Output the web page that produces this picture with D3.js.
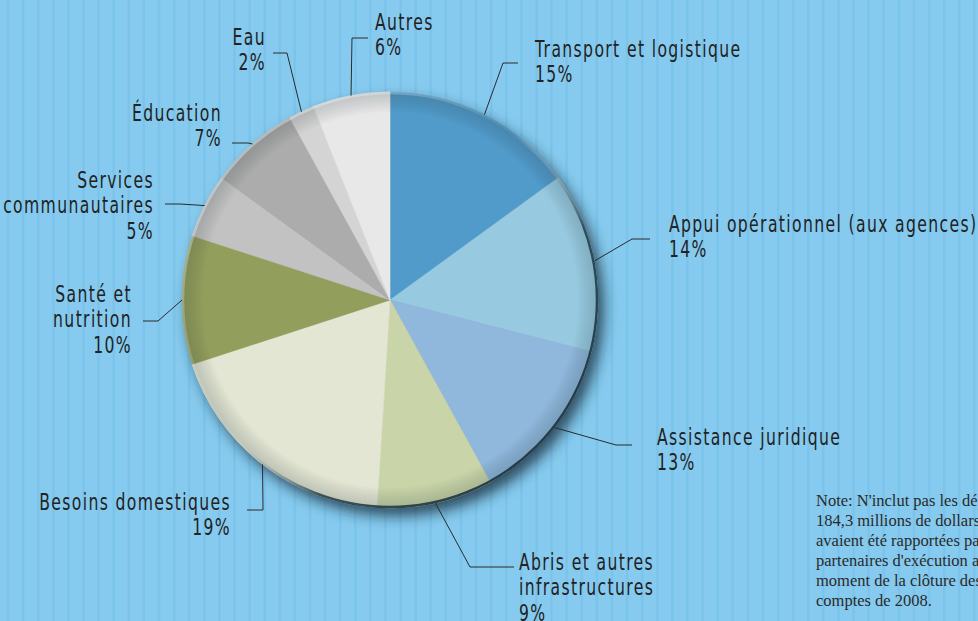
<!DOCTYPE html>
<html>
<head>
<meta charset="utf-8">
<script src="https://cdn.jsdelivr.net/npm/d3@7"></script>
<style>
  html, body { margin: 0; padding: 0; overflow: hidden; background: #86cbef; }
  svg { display: block; }
  .lbl { font-family: "DejaVu Sans", sans-serif; font-size: 23px; letter-spacing: 2px; fill: #222; }
  .note { font-family: "Liberation Serif", "DejaVu Serif", serif; font-size: 16.5px; fill: #2a2a2a; }
</style>
</head>
<body>
<svg id="chart" width="978" height="621"></svg>
<script>
// Data (share of expenditure, %), clockwise from 12 o'clock
var categories = ["Transport et logistique", "Appui opérationnel (aux agences)", "Assistance juridique",
  "Abris et autres infrastructures", "Besoins domestiques", "Santé et nutrition",
  "Services communautaires", "Éducation", "Eau", "Autres"];
var values = [15, 14, 13, 9, 19, 10, 5, 7, 2, 6];
var colors = ["#519bca", "#97cae0", "#8fb8dc", "#c9d5a8", "#e3e6d3", "#929e5c",
  "#c2c2c2", "#acacac", "#d4d4d4", "#e8e8e8"];
// how the label text is broken into lines
var labelLines = [
  ["Transport et logistique"], ["Appui opérationnel (aux agences)"], ["Assistance juridique"],
  ["Abris et autres", "infrastructures"], ["Besoins domestiques"], ["Santé et", "nutrition"],
  ["Services", "communautaires"], ["Éducation"], ["Eau"], ["Autres"]];
var noteLines = ["Note: N'inclut pas les dépenses de", "184,3 millions de dollars qui", "avaient été rapportées par les",
  "partenaires d'exécution au", "moment de la clôture des", "comptes de 2008."];

// label layout: elbow of leader, end of leader, text x / anchor / first baseline
var labelPos = [
  {ex: 503, ey: 63, lx: 518, tx: 535, anchor: "start", ty: 57},
  {ex: 632, ey: 239, lx: 650, tx: 669, anchor: "start", ty: 232},
  {ex: 616, ey: 445, lx: 632, tx: 657, anchor: "start", ty: 445},
  {ex: 470, ey: 567, lx: 514, tx: 519, anchor: "start", ty: 570},
  {ex: 263, ey: 510, lx: 247, tx: 231, anchor: "end", ty: 510},
  {ex: 158, ey: 321, lx: 143, tx: 132, anchor: "end", ty: 302},
  {ex: 180, ey: 204, lx: 165, tx: 154, anchor: "end", ty: 188},
  {ex: 248, ey: 143, lx: 232, tx: 222, anchor: "end", ty: 121},
  {ex: 287, ey: 53, lx: 273, tx: 266, anchor: "end", ty: 45},
  {ex: 352, ey: 38, lx: 368, tx: 375, anchor: "start", ty: 30}
];

var svg = d3.select("#chart"),
    width = +svg.attr("width"),
    height = +svg.attr("height");

var cx = 390, cy = 300, r = 208, lineH = 25.5, squeeze = 0.68;

var defs = svg.append("defs");

// striped background
var pat = defs.append("pattern").attr("id", "stripes")
  .attr("patternUnits", "userSpaceOnUse").attr("width", 15.1).attr("height", 20);
pat.append("rect").attr("width", 15.1).attr("height", 20).attr("fill", "#86cbef");
pat.append("rect").attr("x", 7).attr("width", 2).attr("height", 20).attr("fill", "#79c2ea");

var shadow = defs.append("filter").attr("id", "shadow")
  .attr("x", "-20%").attr("y", "-20%").attr("width", "150%").attr("height", "150%");
shadow.append("feDropShadow").attr("dx", 6).attr("dy", 8).attr("stdDeviation", 7)
  .attr("flood-color", "#16303d").attr("flood-opacity", 0.8);

var rim = defs.append("linearGradient").attr("id", "rim")
  .attr("x1", "0%").attr("y1", "0%").attr("x2", "100%").attr("y2", "100%");
rim.append("stop").attr("offset", "0%").attr("stop-color", "#ffffff").attr("stop-opacity", 0.5);
rim.append("stop").attr("offset", "45%").attr("stop-color", "#ffffff").attr("stop-opacity", 0.05);
rim.append("stop").attr("offset", "65%").attr("stop-color", "#1c3440").attr("stop-opacity", 0.8);
rim.append("stop").attr("offset", "100%").attr("stop-color", "#1c3440").attr("stop-opacity", 1);

var shade = defs.append("radialGradient").attr("id", "shade");
shade.append("stop").attr("offset", "90%").attr("stop-color", "#000").attr("stop-opacity", 0);
shade.append("stop").attr("offset", "100%").attr("stop-color", "#203840").attr("stop-opacity", 0.2);

svg.append("rect").attr("width", width).attr("height", height).attr("fill", "url(#stripes)");

// Pie
var pie = d3.pie().sort(null).value(function(d) { return d; });
var arcs = pie(values);
var arc = d3.arc().innerRadius(0).outerRadius(r);

var g = svg.append("g").attr("transform", "translate(" + cx + "," + cy + ")");

g.append("circle").attr("r", r).attr("fill", "#999").attr("filter", "url(#shadow)");

g.selectAll("path.slice")
  .data(arcs)
  .enter()
  .append("path")
  .attr("class", "slice")
  .attr("d", arc)
  .attr("fill", function(d, i) { return colors[i]; })
  .attr("stroke", function(d, i) { return colors[i]; })
  .attr("stroke-width", 0.6);

g.append("circle").attr("r", r).attr("fill", "url(#shade)");
g.append("circle").attr("r", r - 1).attr("fill", "none")
  .attr("stroke", "url(#rim)").attr("stroke-width", 2.5);

// Leaders and labels
var labels = svg.append("g");
arcs.forEach(function(d, i) {
  var p = labelPos[i];
  var mid = (d.startAngle + d.endAngle) / 2;
  var ax = cx + r * Math.sin(mid), ay = cy - r * Math.cos(mid);
  labels.append("polyline")
    .attr("points", [[ax, ay], [p.ex, p.ey], [p.lx, p.ey]].map(function(q) { return q.join(","); }).join(" "))
    .attr("fill", "none").attr("stroke", "#2a2a2a").attr("stroke-width", 1);
  var t = labels.append("text").attr("class", "lbl").attr("text-anchor", p.anchor)
    .attr("transform", "translate(" + p.tx + ",0) scale(" + squeeze + ",1)");
  var lines = labelLines[i].concat([values[i] + "%"]);
  lines.forEach(function(s, k) {
    t.append("tspan").attr("x", 0).attr("y", p.ty + k * lineH).text(s);
  });
});

// Note
var note = svg.append("text").attr("class", "note");
noteLines.forEach(function(s, k) {
  note.append("tspan").attr("x", 816).attr("y", 506 + k * 20).text(s);
});
</script>
</body>
</html>
